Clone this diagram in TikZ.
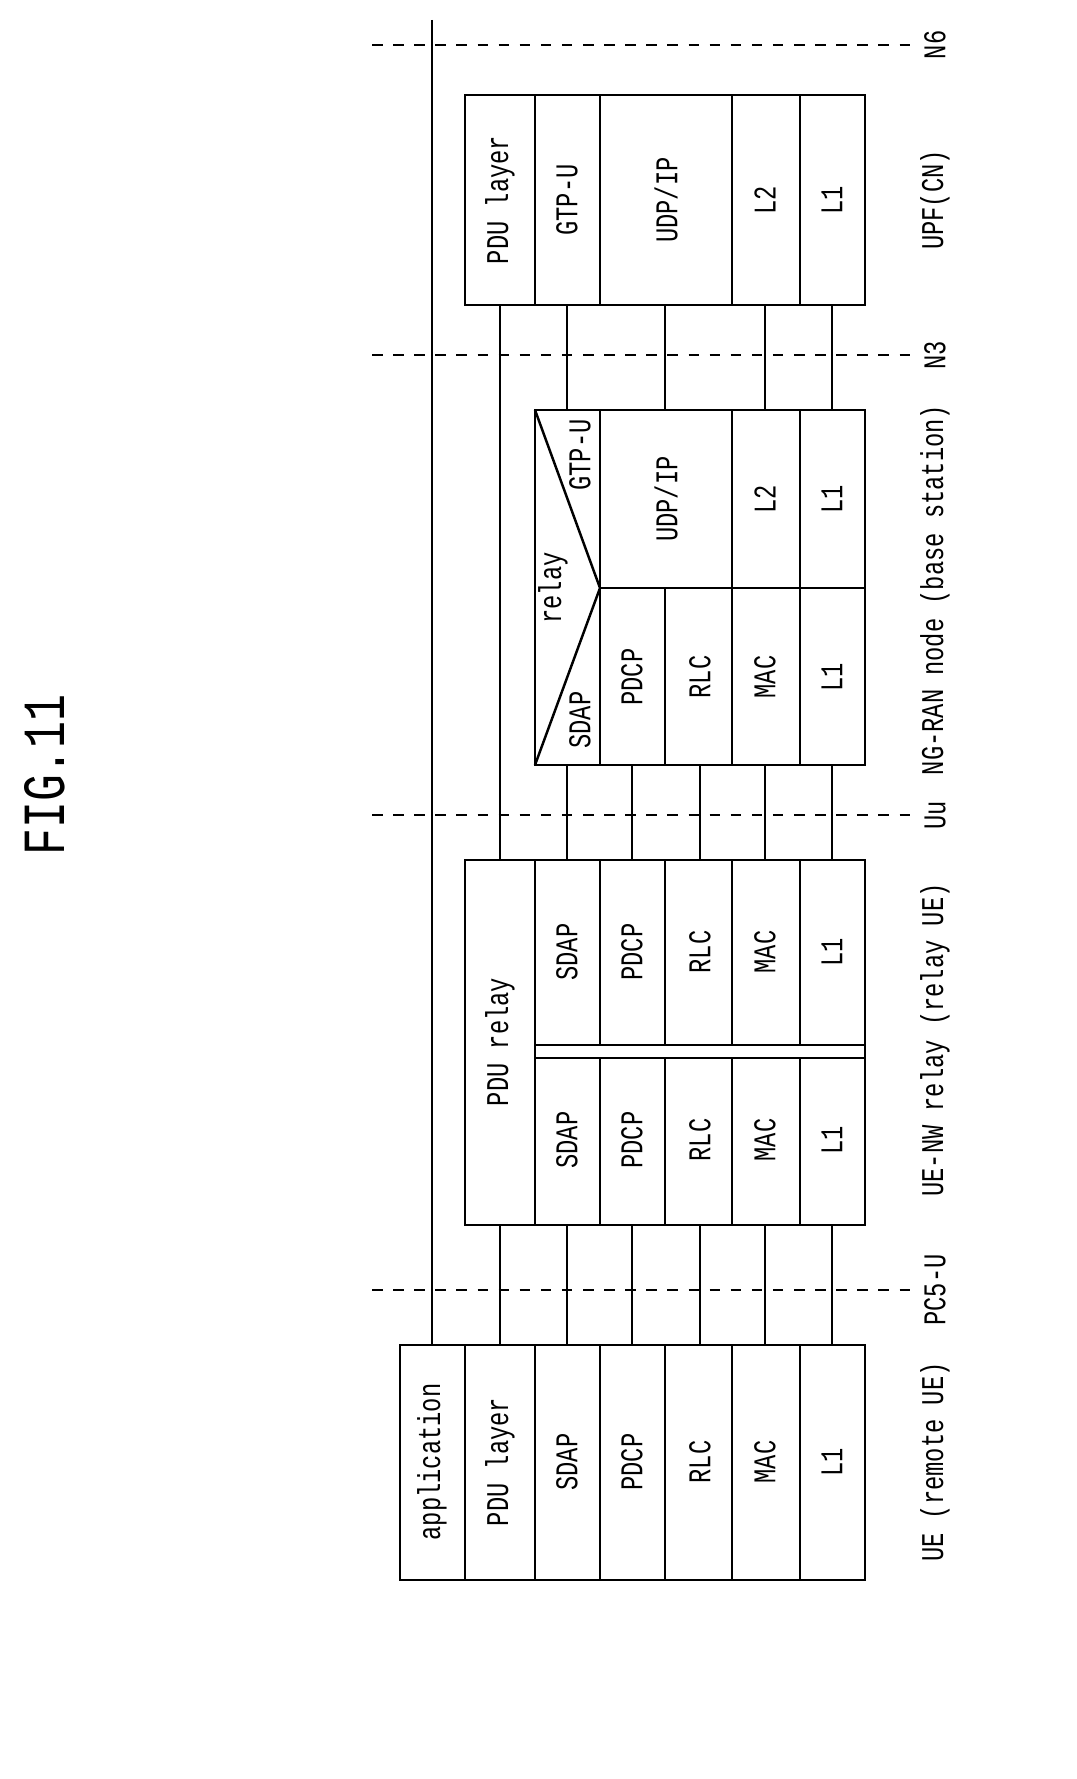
\documentclass[tikz,border=0pt]{standalone}
\usepackage{fontspec}
\setmainfont{Liberation Mono}
\tikzset{font={\fontsize{9}{10}\selectfont}}
\newcommand{\cnd}[1]{\scalebox{0.75}[1]{#1}}
\tikzset{
  lbl/.style={rotate=90,inner sep=1pt},
  iface/.style={dashed,line width=0.6pt},
  box/.style={line width=0.7pt},
  wire/.style={line width=0.6pt}
}

\begin{document}
\begin{tikzpicture}[x=0.01cm,y=-0.01cm]
  \useasboundingbox (0,0) rectangle (1077,1779);

  % title
  \node[lbl,font={\fontsize{17}{18}\selectfont}] (title) at (45,775) {\cnd{FIG.11}};

  % interfaces
  \foreach \y/\n/\t in {45/n6/N6,355/n3/N3,815/uu/Uu,1290/pc5/PC5-U}{
    \coordinate (\n-a) at (372,\y);
    \coordinate (\n-b) at (915,\y);
    \draw[iface] (\n-a) -- (\n-b);
    \node[lbl] (\n-label) at (935,\y) {\cnd{\t}};
  }

  % remote UE
  \draw[box] (400,1345) rectangle (865,1580);
  \foreach \x in {465,535,600,665,732,800} \draw[box] (\x,1345) -- (\x,1580);
  \foreach \x/\n/\t in {432/app/application,500/pdu/PDU layer,567/sdap/SDAP,632/pdcp/PDCP,700/rlc/RLC,765/mac/MAC,832/lone/L1}
    \node[lbl] (ue-\n) at (\x,1462) {\cnd{\t}};

  % relay UE
  \draw[box] (465,860) rectangle (865,1225);
  \draw[box] (535,860) -- (535,1225);
  \draw[box] (535,1045) -- (865,1045);
  \draw[box] (535,1058) -- (865,1058);
  \foreach \x in {600,665,732,800} {
    \draw[box] (\x,860) -- (\x,1045);
    \draw[box] (\x,1058) -- (\x,1225);
  }
  \node[lbl] (rl-pdu) at (500,1042) {\cnd{PDU relay}};
  \foreach \x/\n/\t in {567/sdap/SDAP,632/pdcp/PDCP,700/rlc/RLC,765/mac/MAC,832/lone/L1}{
    \node[lbl] (rl-\n-a) at (\x,1140) {\cnd{\t}};
    \node[lbl] (rl-\n-b) at (\x,952) {\cnd{\t}};
  }

  % NG-RAN node
  \draw[box] (535,410) rectangle (865,765);
  \draw[box] (535,765) -- (600,588) -- (535,410);
  \draw[box] (600,410) -- (600,765);
  \draw[box] (600,588) -- (865,588);
  \draw[box] (665,588) -- (665,765);
  \draw[box] (732,410) -- (732,765);
  \draw[box] (800,410) -- (800,765);
  \node[lbl] (gn-relay) at (553,588) {\cnd{relay}};
  \node[lbl] (gn-sdap) at (580,720) {\cnd{SDAP}};
  \node[lbl] (gn-gtp) at (580,455) {\cnd{GTP-U}};
  \foreach \x/\n/\t in {632/pdcp/PDCP,700/rlc/RLC,765/mac/MAC,832/lone/L1}
    \node[lbl] (gn-\n) at (\x,677) {\cnd{\t}};
  \node[lbl] (gn-udp) at (666,499) {\cnd{UDP/IP}};
  \node[lbl] (gn-ltwo) at (765,499) {\cnd{L2}};
  \node[lbl] (gn-lonb) at (832,499) {\cnd{L1}};

  % UPF
  \draw[box] (465,95) rectangle (865,305);
  \foreach \x in {535,600,732,800} \draw[box] (\x,95) -- (\x,305);
  \foreach \x/\n/\t in {500/pdu/PDU layer,567/gtp/GTP-U,666/udp/{UDP/IP},765/ltwo/L2,832/lone/L1}
    \node[lbl] (up-\n) at (\x,200) {\cnd{\t}};

  % connections
  \draw[wire] (432,20) -- (432,1345);
  \foreach \x in {500,567,632,700,765,832} \draw[wire] (\x,1345) -- (\x,1225);
  \draw[wire] (500,860) -- (500,305);
  \foreach \x in {567,632,700,765,832} \draw[wire] (\x,860) -- (\x,765);
  \foreach \x in {567,665,765,832} \draw[wire] (\x,410) -- (\x,305);

  % node labels
  \foreach \y/\n/\t in {200/upf/UPF(CN),590/gnb/NG-RAN node (base station),1040/rue/UE-NW relay (relay UE),1462/ue/UE (remote UE)}
    \node[lbl] (\n-name) at (935,\y) {\cnd{\t}};

\end{tikzpicture}
\end{document}
